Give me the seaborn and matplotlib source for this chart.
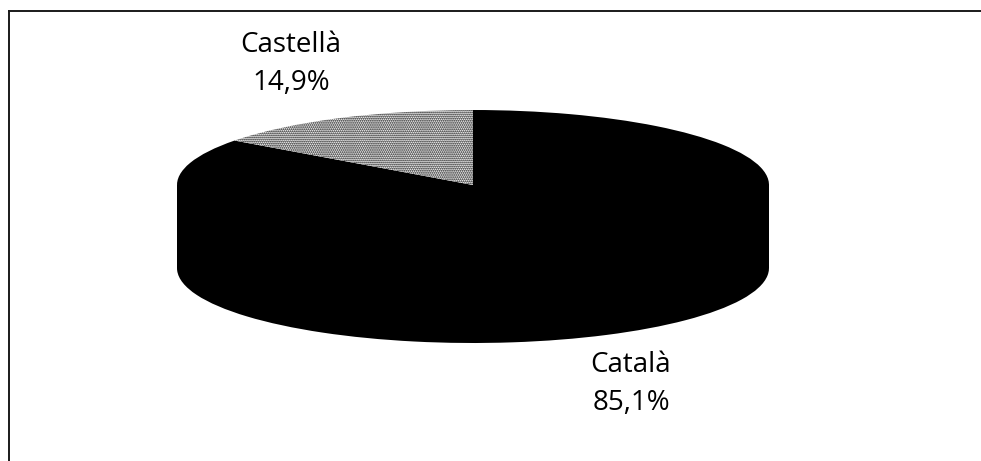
import matplotlib
matplotlib.use("Agg")
import matplotlib.pyplot as plt
import seaborn as sns

sns.set_theme(style="white")
plt.rcParams['font.family'] = ['Open Sans', 'DejaVu Sans']
plt.rcParams['hatch.linewidth'] = 0.9

labels = ["Català", "Castellà"]
values = [85.1, 14.9]
value_labels = ["85,1%", "14,9%"]

W, H = 981, 461
fig = plt.figure(figsize=(W / 100, H / 100), dpi=100)
# frame of the chart area, in pixels
left, right, top, bottom = 9, 981, 11, 461
ax = fig.add_axes([left / W, 1 - bottom / H, (right - left) / W, (bottom - top) / H])

# pie centre and squash, in pixels
cx, cy, rx, ry, depth = 473, 185, 296, 75, 83
flat = dict(linewidth=0, edgecolor="black")

# side wall: lower ellipse + block between the two
ax.pie(values, radius=1, center=(0, -depth / ry), startangle=90, counterclock=False,
       colors=["black", "black"], frame=True, wedgeprops=flat)
ax.fill_between([-1, 1], -depth / ry, 0, color="black", lw=0)

# top face
wedges, _ = ax.pie(values, radius=1, center=(0, 0), startangle=90, counterclock=False,
                   colors=["white", "white"], frame=True, wedgeprops=flat)
wedges[0].set_facecolor("black")
wedges[1].set_hatch("........")

ax.set_aspect("auto")
ax.set_xlim((left - cx) / rx, (right - cx) / rx)
ax.set_ylim((cy - bottom) / ry, (cy - top) / ry)
ax.set_xticks([])
ax.set_yticks([])
for side, s in ax.spines.items():
    s.set_color("#1a1a1a")
    s.set_linewidth(1.4)
ax.spines["right"].set_visible(False)
ax.spines["bottom"].set_visible(False)

# labels
ax.text((291 - cx) / rx, (cy - 64) / ry, labels[1] + "\n" + value_labels[1], ha="center", va="center",
        fontsize=20, color="black", linespacing=1.5)
ax.text((631 - cx) / rx, (cy - 384) / ry, labels[0] + "\n" + value_labels[0], ha="center", va="center",
        fontsize=20, color="black", linespacing=1.5)

fig.savefig("out.png", dpi=100)
